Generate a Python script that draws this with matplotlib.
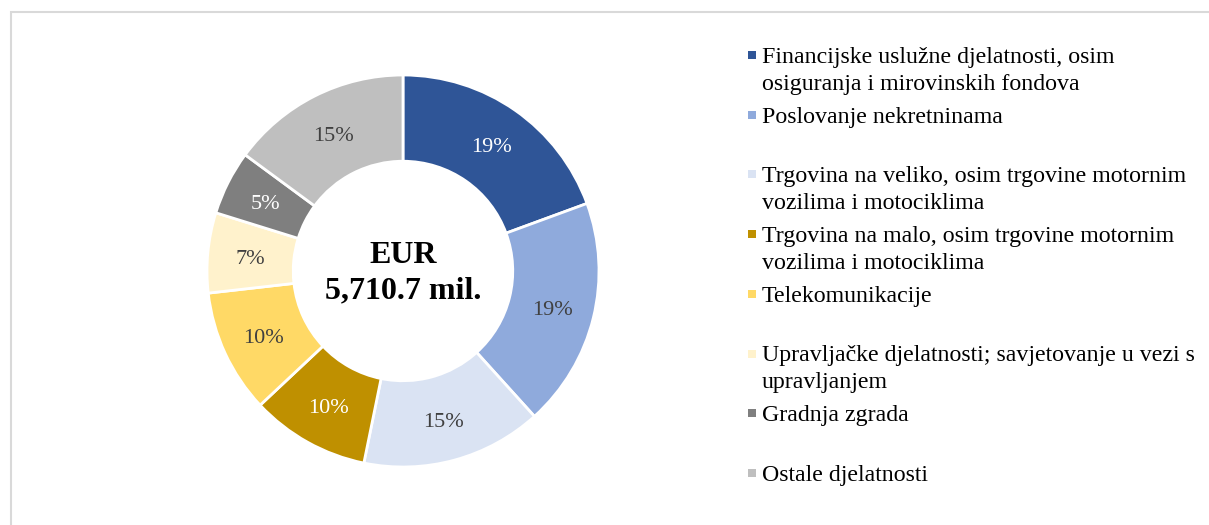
import matplotlib

matplotlib.use("Agg")
import matplotlib.pyplot as plt
from matplotlib.patches import Rectangle

plt.rcParams["font.family"] = ["Liberation Serif", "DejaVu Serif"]

sectors = [
    "Financijske uslužne djelatnosti, osim\nosiguranja i mirovinskih fondova",
    "Poslovanje nekretninama",
    "Trgovina na veliko, osim trgovine motornim\nvozilima i motociklima",
    "Trgovina na malo, osim trgovine motornim\nvozilima i motociklima",
    "Telekomunikacije",
    "Upravljačke djelatnosti; savjetovanje u vezi s\nupravljanjem",
    "Gradnja zgrada",
    "Ostale djelatnosti",
]
shares = [19.4, 18.9, 14.9, 9.8, 10.2, 6.6, 5.3, 14.9]
colors = ["#2F5597", "#8FAADC", "#DAE3F3", "#BF9000",
          "#FFD966", "#FFF2CC", "#7F7F7F", "#BFBFBF"]
label_colors = ["white", "#404040", "#404040", "white",
                "#404040", "#404040", "white", "#404040"]
center_label = "EUR\n5,710.7 mil."

W, H = 1209, 525
fig = plt.figure(figsize=(W / 100, H / 100), dpi=100)

# light frame (only top and left edges are visible in the crop)
fig.patches.append(Rectangle((11 / W, -0.1), 1.2, (H - 12) / H + 0.1,
                             transform=fig.transFigure, fill=False,
                             edgecolor="#D9D9D9", linewidth=1.5))

cx, cy, r = 403, 271, 196
half = 200
ax = fig.add_axes([(cx - half) / W, (H - cy - half) / H, 2 * half / W, 2 * half / H])
wedges, _, autotexts = ax.pie(
    shares, colors=colors, startangle=90, counterclock=False,
    autopct="%.0f%%", pctdistance=0.785,
    wedgeprops=dict(width=0.44, edgecolor="white", linewidth=2),
    textprops=dict(fontsize=16, color="#404040"),
)
for t, c in zip(autotexts, label_colors):
    t.set_color(c)
    x, y = t.get_position()
    t.set_position((x, y - 0.015))
ax.set_xlim(-half / r, half / r)
ax.set_ylim(-half / r, half / r)
ax.set_aspect("equal")
ax.axis("off")

ax.text(0, -0.012, center_label, ha="center", va="center", fontsize=23,
        fontweight="bold", color="black", linespacing=1.3)

# legend: one slot per entry, marker level with the first text line
y0, step = 55, 59.7
for i, (lab, col) in enumerate(zip(sectors, colors)):
    y = y0 + i * step
    fig.patches.append(Rectangle((748 / W, (H - y - 4) / H), 8 / W, 8 / H,
                                 transform=fig.transFigure,
                                 facecolor=col, edgecolor="none"))
    fig.text(762 / W, (H - y + 8) / H, lab, ha="left", va="top",
             fontsize=17.2, color="black", linespacing=1.35)

fig.savefig("out.png", dpi=100, facecolor="white")
